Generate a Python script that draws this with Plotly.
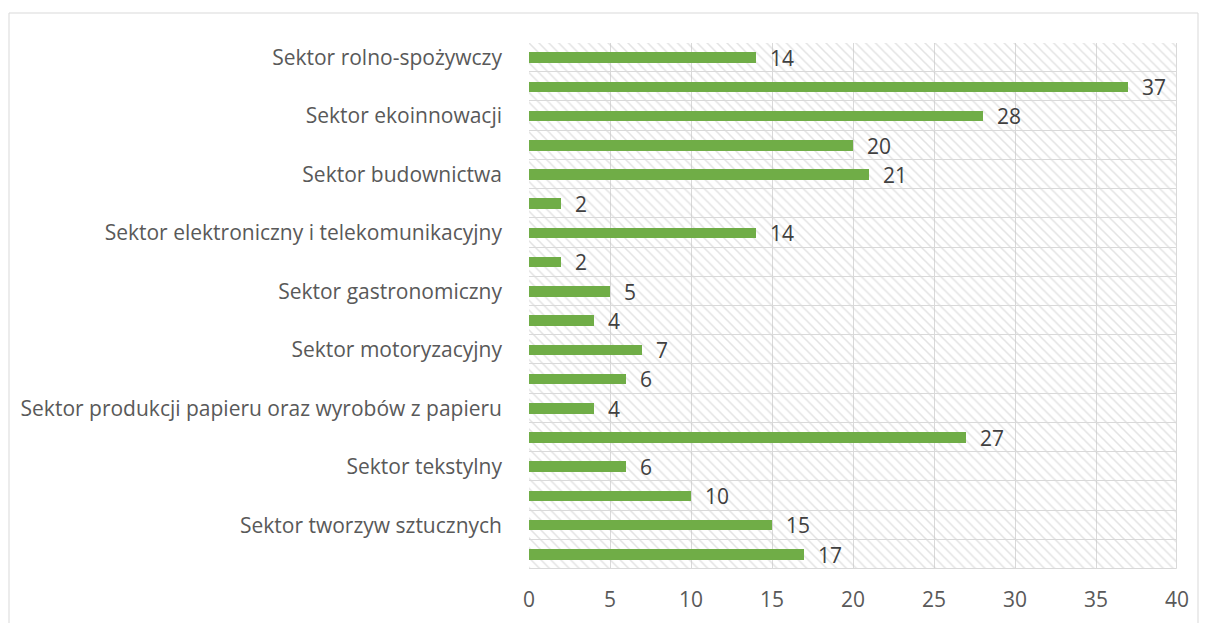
import plotly.graph_objects as go

# Categories top to bottom (only every other label is shown in the reference)
labels = [
    "Sektor rolno-spożywczy", "",
    "Sektor ekoinnowacji", "",
    "Sektor budownictwa", "",
    "Sektor elektroniczny i telekomunikacyjny", "",
    "Sektor gastronomiczny", "",
    "Sektor motoryzacyjny", "",
    "Sektor produkcji papieru oraz wyrobów z papieru", "",
    "Sektor tekstylny", "",
    "Sektor tworzyw sztucznych", "",
]
values = [14, 37, 28, 20, 21, 2, 14, 2, 5, 4, 7, 6, 4, 27, 6, 10, 15, 17]
x_ticks = [0, 5, 10, 15, 20, 25, 30, 35, 40]
x_max = 40

positions = list(range(len(values)))

# page body adds an 8px margin, so the figure is 8px smaller than the window
W, H = 1200, 615
ml, mr, mt, mb = 521, 31, 35, 54

fig = go.Figure()

# hatched background bands (plot-area styling)
fig.add_trace(go.Bar(
    y=positions, x=[x_max] * len(values), orientation="h", width=1,
    marker=dict(color="rgba(0,0,0,0)",
                line=dict(color="#d9d9d9", width=1),
                pattern=dict(shape="\\", size=7, solidity=0.22,
                             fgcolor="#c8c8c8", bgcolor="rgba(0,0,0,0)")),
    hoverinfo="skip", showlegend=False,
))

fig.add_trace(go.Bar(
    y=positions, x=values, orientation="h", width=0.36,
    marker=dict(color="#70ad47", line=dict(width=0)),
    text=values, texttemplate="  %{x}", textposition="outside",
    constraintext="none",
    textfont=dict(color="#404040", size=21, family="Open Sans"),
    cliponaxis=False, showlegend=False,
))

pw = W - ml - mr
ph = H - mt - mb
fig.add_shape(type="rect", xref="paper", yref="paper",
              x0=(1 - ml) / pw, x1=(1190 - ml) / pw,
              y0=(H - mb - 640) / ph, y1=(H - mb - 5) / ph,
              line=dict(color="#d9d9d9", width=1), layer="below")

fig.update_layout(
    width=W, height=H,
    margin=dict(l=ml, r=mr, t=mt, b=mb, autoexpand=False),
    paper_bgcolor="white", plot_bgcolor="white",
    barmode="overlay", bargap=0,
    font=dict(family="Open Sans", color="#595959", size=21),
    xaxis=dict(range=[0, x_max], tickvals=x_ticks, showgrid=True,
               gridcolor="#d9d9d9", gridwidth=1, zeroline=False,
               showline=False, ticks="", ticklabelstandoff=16,
               tickfont=dict(size=21, color="#595959")),
    yaxis=dict(range=[len(values) - 0.5, -0.5], tickvals=positions,
               ticktext=labels, showgrid=False, zeroline=False,
               showline=False, ticks="", ticklabelstandoff=26,
               tickfont=dict(size=21, color="#595959")),
)

fig.write_html("out.html")
